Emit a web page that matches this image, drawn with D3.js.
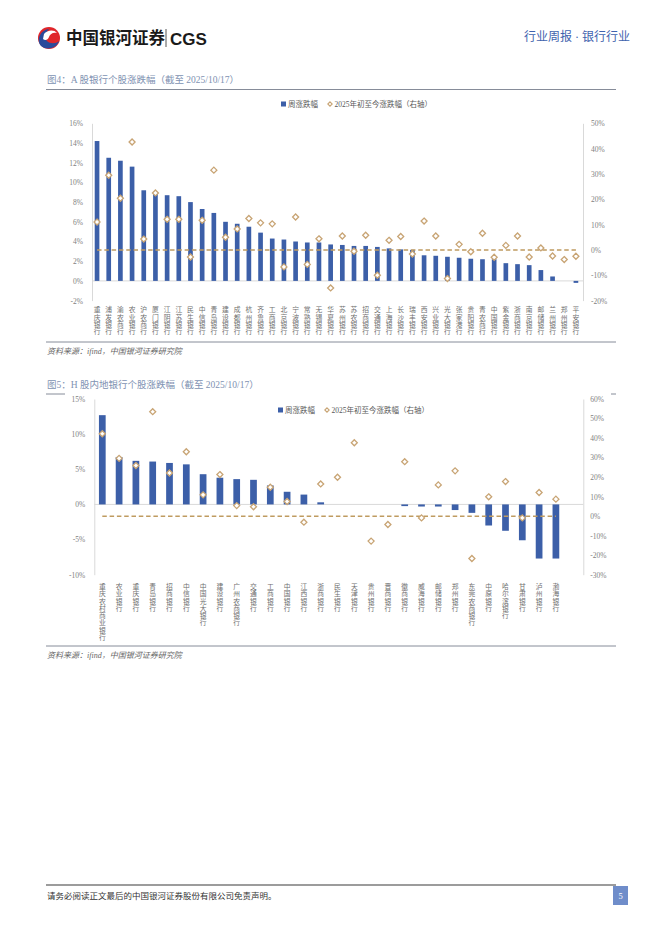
<!DOCTYPE html>
<html><head><meta charset="utf-8">
<script src="https://cdn.jsdelivr.net/npm/d3@7"></script>
<style>
body{margin:0;background:#fff}
svg text{font-family:"Liberation Serif","Noto Sans CJK SC",serif}
.xl{writing-mode:vertical-rl;text-orientation:upright;font-family:"Noto Sans CJK SC",sans-serif}
</style></head>
<body><svg id="c" width="662" height="936"></svg>
<script>
// ---------- DATA ----------
const aBanks = ["重庆银行","浦发银行","渝农商行","农业银行","沪农商行","厦门银行","江阴银行","江苏银行","民生银行","中信银行","青岛银行","建设银行","成都银行","杭州银行","齐鲁银行","工商银行","北京银行","宁波银行","常熟银行","无锡银行","华夏银行","苏州银行","苏农银行","招商银行","交通银行","上海银行","长沙银行","瑞丰银行","西安银行","兴业银行","光大银行","张家港行","贵阳银行","青农商行","中国银行","紫金银行","浙商银行","南京银行","邮储银行","兰州银行","郑州银行","平安银行"];
const aWeek = [14.2,12.5,12.2,11.6,9.2,8.9,8.7,8.6,8.0,7.3,6.9,6.0,5.8,5.5,4.9,4.3,4.2,4.0,3.9,3.9,3.7,3.65,3.55,3.55,3.45,3.3,3.2,3.15,2.6,2.55,2.45,2.35,2.25,2.2,2.2,1.8,1.7,1.6,1.1,0.45,0.0,-0.2];
const aYtd = [11.0,29.5,20.4,42.6,4.3,22.5,12.1,12.1,-2.8,11.7,31.5,5.0,8.3,12.4,10.7,10.3,-6.7,13.0,-5.7,4.4,-15.0,5.5,-0.5,5.8,-10.0,3.8,5.3,-1.6,11.4,5.5,-11.3,2.2,-0.7,6.6,-2.9,1.8,5.5,-2.8,0.8,-2.4,-3.8,-2.5];
const aLeftTicks = [16,14,12,10,8,6,4,2,0,-2];
const aRightTicks = [50,40,30,20,10,0,-10,-20];

const hBanks = ["重庆农村商业银行","农业银行","重庆银行","青岛银行","招商银行","中信银行","中国光大银行","建设银行","广州农商银行","交通银行","工商银行","中国银行","江西银行","浙商银行","民生银行","天津银行","贵州银行","晋商银行","徽商银行","威海银行","邮储银行","郑州银行","东莞农商银行","中原银行","哈尔滨银行","甘肃银行","泸州银行","渤海银行"];
const hWeek = [12.7,6.75,6.2,6.1,5.9,5.7,4.3,3.8,3.6,3.5,2.7,1.8,1.4,0.3,0,0,0,0,-0.24,-0.3,-0.3,-0.8,-1.2,-3.0,-3.75,-5.1,-7.7,-7.7];
const hYtd = [42.2,29.6,25.9,53.5,22.1,33.0,10.9,21.3,5.4,4.8,14.8,7.5,-3.1,16.5,19.9,37.6,-12.8,-4.3,27.9,-0.9,16.0,23.2,-21.7,9.9,17.7,-0.9,12.1,8.7];
const hLeftTicks = [15,10,5,0,-5,-10];
const hRightTicks = [60,50,40,30,20,10,0,-10,-20,-30];

const legendWeek = "周涨跌幅";
const legendYtd = "2025年初至今涨跌幅（右轴）";

// ---------- STYLE ----------
const BAR = "#3c5fa8", DIA = "#c8a474", DASH = "#bf9b60", AX = "#d9d9d9", TICK = "#7f7f7f";
const svg = d3.select("#c");

// ---------- HEADER ----------
const hd = svg.append("g");
hd.append("circle").attr("cx",49).attr("cy",38).attr("r",11).attr("fill","#e0262b");
hd.append("path").attr("d","M41,46 C36,40 40,30 49,29 C45,33 44,38 47,41 C50,44 56,44 59,41 C57,48 47,51 41,46 Z").attr("fill","#2a4a9b");
hd.append("path").attr("d","M44,34 C47,30 54,29 57,33 C53,32 50,34 49,37 C48,40 45,41 43,39 Z").attr("fill","#fff");
hd.append("text").attr("x",66).attr("y",44).attr("font-size",16.5).attr("font-weight","bold").attr("fill","#1a1a1a")
  .style("font-family","'Noto Sans CJK SC'").text("中国银河证券");
hd.append("line").attr("x1",166).attr("x2",166).attr("y1",29).attr("y2",47).attr("stroke","#555").attr("stroke-width",1);
hd.append("text").attr("x",170).attr("y",44.5).attr("font-size",17).attr("font-weight","bold").attr("fill","#1a1a1a")
  .style("font-family","'Liberation Sans',Arial").text("CGS");
hd.append("text").attr("x",630).attr("y",41).attr("text-anchor","end").attr("font-size",12).attr("fill","#3f63ae")
  .text("行业周报 · 银行行业");

// ---------- CHART FUNCTION ----------
function chart(cfg){
  const g = svg.append("g");
  g.append("text").attr("x",47).attr("y",cfg.titleY).attr("font-size",9.5).attr("fill","#8092b2").text(cfg.title);
  g.append("line").attr("x1",46).attr("x2",616).attr("y1",cfg.ruleY).attr("y2",cfg.ruleY).attr("stroke","#868c99").attr("stroke-width",1);
  if(cfg.cover){
    g.append("rect").attr("x",cfg.cover[0]).attr("y",cfg.cover[1]).attr("width",cfg.cover[2]).attr("height",cfg.cover[3]).attr("fill","#fff");
  }
  const x = d3.scaleBand().domain(cfg.banks).range([cfg.x0, cfg.x0 + cfg.step*cfg.banks.length]).paddingInner(0.6).paddingOuter(0.3);
  const yL = d3.scaleLinear().domain(cfg.lDom).range([cfg.yB, cfg.yT]);
  const yR = d3.scaleLinear().domain(cfg.rDom).range([cfg.yB, cfg.yT]);
  const la = g.append("g").attr("transform",`translate(${cfg.axL},0)`)
    .call(d3.axisLeft(yL).tickValues(cfg.lTicks).tickSize(0).tickPadding(cfg.padL).tickFormat(d=>d+"%"));
  const ra = g.append("g").attr("transform",`translate(${cfg.axR},0)`)
    .call(d3.axisRight(yR).tickValues(cfg.rTicks).tickSize(0).tickPadding(cfg.padR).tickFormat(d=>d+"%"));
  [la,ra].forEach(a=>{
    a.select(".domain").attr("stroke",AX);
    a.selectAll("text").attr("fill",TICK).attr("font-size",7.5).style("font-family","'Liberation Serif',serif");
  });
  g.append("line").attr("x1",cfg.axL).attr("x2",cfg.axR).attr("y1",yL(0)).attr("y2",yL(0)).attr("stroke",AX).attr("stroke-width",1);
  const data = cfg.banks.map((b,i)=>({b, w:cfg.week[i], y:cfg.ytd[i]}));
  g.selectAll("rect.bar").data(data).join("rect").attr("class","bar")
    .attr("x",d=>x(d.b)).attr("width",x.bandwidth())
    .attr("y",d=>yL(Math.max(0,d.w))).attr("height",d=>Math.abs(yL(d.w)-yL(0)))
    .attr("fill",BAR);
  const cx = d=>x(d)+x.bandwidth()/2;
  g.append("path").datum(cfg.banks).attr("d",d3.line().x(cx).y(()=>yR(0)))
    .attr("fill","none").attr("stroke",DASH).attr("stroke-width",1.5).attr("stroke-dasharray","4.5,2.8");
  const s = cfg.dia;
  g.selectAll("path.dia").data(data).join("path").attr("class","dia")
    .attr("d",d=>{const X=cx(d.b),Y=yR(d.y);return `M${X},${Y-s}L${X+s},${Y}L${X},${Y+s}L${X-s},${Y}Z`;})
    .attr("fill","#fff").attr("stroke",DIA).attr("stroke-width",1.3);
  // vertical category labels
  g.selectAll("text.xl").data(cfg.banks).join("text").attr("class","xl")
    .attr("x",d=>cx(d)).attr("y",cfg.labY)
    .attr("font-size",6.8).attr("fill","#6f6f6f").attr("letter-spacing",0.5)
    .text(d=>d);
  const lg = g.append("g");
  lg.append("rect").attr("x",cfg.legX).attr("y",cfg.legY-4.5).attr("width",5).attr("height",5).attr("fill",BAR);
  lg.append("text").attr("x",cfg.legX+7).attr("y",cfg.legY+0.5).attr("font-size",7.5).attr("fill","#595959").text(legendWeek);
  const dx = cfg.legX+49, dy = cfg.legY-2;
  lg.append("path").attr("d",`M${dx},${dy-2.2}L${dx+2.2},${dy}L${dx},${dy+2.2}L${dx-2.2},${dy}Z`).attr("fill","#fff").attr("stroke",DIA).attr("stroke-width",1.1);
  lg.append("text").attr("x",dx+4.5).attr("y",cfg.legY+0.5).attr("font-size",7.5).attr("fill","#595959").text(legendYtd);
  g.append("line").attr("x1",46).attr("x2",616).attr("y1",cfg.srcRule).attr("y2",cfg.srcRule).attr("stroke","#868c99").attr("stroke-width",1);
  g.append("text").attr("x",47).attr("y",cfg.srcRule+12).attr("font-size",8).attr("font-style","italic").attr("fill","#666")
    .text("资料来源：ifind，中国银河证券研究院");
}

chart({title:"图4：A 股银行个股涨跌幅（截至 2025/10/17）", titleY:83, ruleY:89.5,
  banks:aBanks, week:aWeek, ytd:aYtd, x0:91.2, step:11.68,
  lDom:[-2,16], rDom:[-20,50], yB:300.6, yT:123.3, lTicks:aLeftTicks, rTicks:aRightTicks,
  axL:92, axR:583, padL:9, padR:8, dia:3, labY:306.5, legX:281, legY:106, srcRule:342});

chart({title:"图5：H 股内地银行个股涨跌幅（截至 2025/10/17）", titleY:388, ruleY:394,
  cover:[65,391,546,6],
  banks:hBanks, week:hWeek, ytd:hYtd, x0:93.9, step:16.8,
  lDom:[-10,15], rDom:[-30,60], yB:574.7, yT:399, lTicks:hLeftTicks, rTicks:hRightTicks,
  axL:94.3, axR:583.3, padL:9, padR:7, dia:3, labY:583, legX:278, legY:412, srcRule:646});

// ---------- FOOTER ----------
svg.append("line").attr("x1",46).attr("x2",616).attr("y1",885).attr("y2",885).attr("stroke","#3a3a3a").attr("stroke-width",1.2);
svg.append("text").attr("x",47).attr("y",899).attr("font-size",8.5).attr("fill","#333").text("请务必阅读正文最后的中国银河证券股份有限公司免责声明。");
svg.append("rect").attr("x",613).attr("y",886).attr("width",15).attr("height",19).attr("fill","#6f8dca");
svg.append("text").attr("x",620.5).attr("y",899).attr("text-anchor","middle").attr("font-size",8.5).attr("fill","#fff").text("5");
</script></body></html>
